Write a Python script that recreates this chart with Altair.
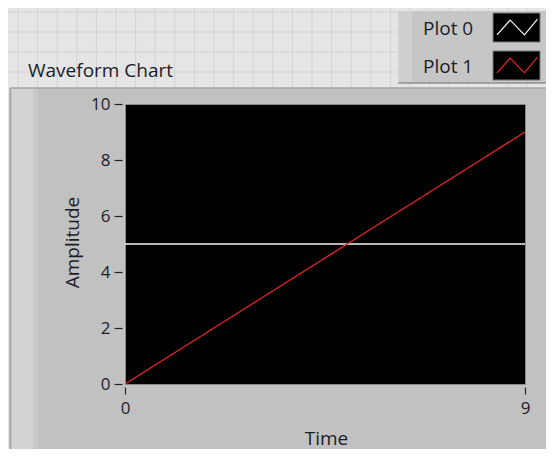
import altair as alt
import pandas as pd

# ---- data ----
time = [0, 1, 2, 3, 4, 5, 6, 7, 8, 9]
plot0 = [5, 5, 5, 5, 5, 5, 5, 5, 5, 5]
plot1 = [0, 1, 2, 3, 4, 5, 6, 7, 8, 9]
series_names = ["Plot 0", "Plot 1"]
series_colors = ["#f4f4f4", "#e42424"]
y_ticks = [0, 2, 4, 6, 8, 10]
x_ticks = [0, 9]
chart_title = "Waveform Chart"
x_title = "Time"
y_title = "Amplitude"

FONT = "Open Sans"
TXT = "#1c1c2a"

df = pd.DataFrame({
    "time": time * 2,
    "value": plot0 + plot1,
    "series": [series_names[0]] * len(time) + [series_names[1]] * len(time),
})
one = pd.DataFrame({"a": [0]})

# ---- data lines ----
lines = alt.Chart(df).mark_line(strokeWidth=1.4, clip=True).encode(
    x=alt.X("time:Q",
            scale=alt.Scale(domain=[0, 9], nice=False, zero=False),
            axis=alt.Axis(values=x_ticks, title=x_title, format="d",
                          domain=False, offset=3, tickSize=7, tickColor="#222",
                          tickWidth=1.2, labelPadding=6, labelFontSize=17,
                          labelFont=FONT, labelColor=TXT, labelFlush=False,
                          titleFont=FONT, titleFontSize=19, titleFontWeight="normal",
                          titleColor=TXT, titleX=201, titleY=51,
                          titleBaseline="middle", titleAlign="center",
                          grid=False, zindex=1)),
    y=alt.Y("value:Q",
            scale=alt.Scale(domain=[0, 10], nice=False),
            axis=alt.Axis(values=y_ticks, title=y_title, format="d",
                          domain=False, offset=3, tickSize=8, tickColor="#222",
                          tickWidth=1.2, labelPadding=4, labelFontSize=17,
                          labelFont=FONT, labelColor=TXT,
                          titleFont=FONT, titleFontSize=19, titleFontWeight="normal",
                          titleColor=TXT, titleX=-50, titleY=138, titleAngle=270,
                          titleBaseline="middle", titleAlign="center",
                          grid=False, zindex=1)),
    color=alt.Color("series:N",
                    scale=alt.Scale(domain=series_names, range=series_colors),
                    legend=None),
)

def box(x, x2, y, y2, fill, stroke=None):
    kw = {"fill": fill}
    if stroke:
        kw["stroke"] = stroke
        kw["strokeWidth"] = 1
    return alt.Chart(one).mark_rect(**kw).encode(
        x=alt.value(x), x2=alt.value(x2), y=alt.value(y), y2=alt.value(y2))

def hline(y, x, x2, color, w=1):
    return alt.Chart(one).mark_rule(color=color, strokeWidth=w).encode(
        x=alt.value(x), x2=alt.value(x2), y=alt.value(y))

def vline(x, y, y2, color, w=1):
    return alt.Chart(one).mark_rule(color=color, strokeWidth=w).encode(
        x=alt.value(x), y=alt.value(y), y2=alt.value(y2))

# ---- panel background (grid paper above the chart frame) ----
top_band = box(-117, 421, -96, -16, "#e5e5e5")
left_band = box(-117, -115, -16, 345, "#e5e5e5")
vgrid = alt.Chart(alt.sequence(0, 28, as_="k")).transform_calculate(
    gx="-107 + 19.6 * datum.k").mark_rule(color="#d3d3d3", strokeWidth=1).encode(
    x=alt.X("gx:Q", scale=None, axis=None),
    y=alt.value(-96), y2=alt.value(-17))
hgrid = alt.Chart(alt.sequence(0, 4, as_="k")).transform_calculate(
    gy="-92 + 20 * datum.k").mark_rule(color="#d3d3d3", strokeWidth=1).encode(
    y=alt.Y("gy:Q", scale=None, axis=None),
    x=alt.value(-117), x2=alt.value(421))

frame_top = hline(-16, -115, 421, "#a6a6a6", 1.5)
frame_left = vline(-115, -16, 345, "#a6a6a6", 1.5)
frame_strip = box(-113, -92, -15, 345, "#d3d3d3")
frame_strip2 = box(-92, -87, -15, 345, "#c9c9c9")

# ---- legend ----
legend_parts = [
    box(273, 424, -93, -21, "#c6c6c6"),
    box(273, 287, -93, -21, "#cfcfcf"),
    hline(-21, 273, 424, "#8f8f8f", 1.5),
    vline(273, -93, -21, "#dcdcdc", 1),
]
ZIG = "M-0.93,0.33L-0.3,-0.38L0.38,0.33L1,-0.42"
for i, (name, col) in enumerate(zip(series_names, series_colors)):
    ytop = -91 + i * 38
    legend_parts.append(box(368, 415, ytop, ytop + 29, "#000000", "#7a7a7a"))
    legend_parts.append(
        alt.Chart(one).mark_point(shape=ZIG, filled=False, size=1760,
                                  strokeWidth=1.2, opacity=1).encode(
            x=alt.value(391.5), y=alt.value(ytop + 15), color=alt.value(col)))
    legend_parts.append(
        alt.Chart(one).mark_text(align="left", baseline="middle", font=FONT,
                                 fontSize=19, color=TXT).encode(
            x=alt.value(298), y=alt.value(ytop + 16), text=alt.value(name)))

title_mark = alt.Chart(one).mark_text(align="left", baseline="middle", font=FONT,
                                      fontSize=19, color=TXT).encode(
    x=alt.value(-97), y=alt.value(-33), text=alt.value(chart_title))

chart = alt.layer(
    top_band, left_band, vgrid, hgrid, frame_top, frame_left, frame_strip, frame_strip2,
    *legend_parts, title_mark, lines
).resolve_scale(x="independent", y="independent").properties(
    width=400, height=280,
    autosize=alt.AutoSizeParams(type="none"),
    padding={"left": 117, "top": 96, "right": 21, "bottom": 65},
    background="#c1c1c1",
).configure_view(fill="#000000", stroke="#8a8a8a", strokeWidth=1)

chart.save("out.html", embed_options={"renderer": "svg", "actions": False})
